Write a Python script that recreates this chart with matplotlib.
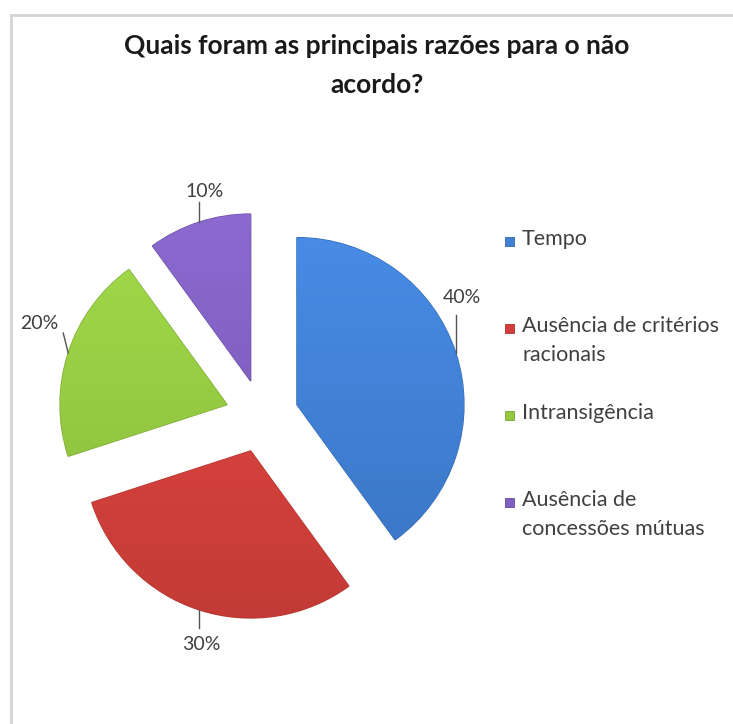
import numpy as np
import matplotlib
matplotlib.use("Agg")
import matplotlib.pyplot as plt
from matplotlib.patches import Rectangle
from matplotlib.colors import to_rgb

plt.rcParams['font.family'] = ['Lato', 'DejaVu Sans']

# Survey answers (percent)
razoes = ["Tempo", "Ausência de critérios\nracionais", "Intransigência",
          "Ausência de\nconcessões mútuas"]
valores = [40, 30, 20, 10]
rotulos = ["40%", "30%", "20%", "10%"]
cores = ["#3f7fd4", "#d23f3a", "#94c940", "#7f5fc0"]

W, H = 733, 724
fig = plt.figure(figsize=(W / 100, H / 100), dpi=100)
ax = fig.add_axes([0, 0, 1, 1])

cx, cy, R = 262, H - 416, 167
wedges, _ = ax.pie(valores, colors=cores, startangle=90, counterclock=False,
                   radius=R, center=(cx, cy), explode=[0.22 * R] * 4,
                   frame=True, wedgeprops=dict(linewidth=1))

ax.set_xlim(0, W)
ax.set_ylim(0, H)
ax.set_aspect('equal')
ax.axis('off')

# light chart-area frame
ax.add_patch(Rectangle((10.5, -20), W + 40, H - 15 + 20, fill=False,
                       edgecolor="#d4d4d4", linewidth=2, clip_on=False))

# vertical shading inside each slice
for w, c in zip(wedges, cores):
    base = np.array(to_rgb(c))
    w.set_edgecolor(tuple(base * 0.85))
    top = np.clip(base * 1.06 + 0.02, 0, 1)
    bot = base * 0.93
    t = np.linspace(0, 1, 256)[:, None, None]
    grad = top * (1 - t) + bot * t
    grad = np.repeat(grad, 2, axis=1)
    x0, y0 = w.center[0] - R, w.center[1] - R
    im = ax.imshow(grad, extent=(x0, x0 + 2 * R, y0, y0 + 2 * R),
                   origin='upper', zorder=w.get_zorder() + 0.1, aspect='auto')
    im.set_clip_path(w)

ax.set_xlim(0, W)
ax.set_ylim(0, H)

# percent labels: (leader end dx, dy), (text dx, dy) from the arc midpoint
posicoes = [((0, 38), (6, 56)), ((0, -18), (2, -35)),
            ((-5, 20), (-29, 30)), ((0, 20), (6, 31))]
for w, txt, ((lx, ly), (tx, ty)) in zip(wedges, rotulos, posicoes):
    ang = np.deg2rad((w.theta1 + w.theta2) / 2)
    px = w.center[0] + R * np.cos(ang)
    py = w.center[1] + R * np.sin(ang)
    ax.plot([px, px + lx], [py, py + ly], color="#555555", linewidth=1, zorder=5)
    ax.text(px + tx, py + ty, txt, ha='center', va='center', fontsize=14,
            color="#404040")

# legend at the right
ly0, pitch = H - 241, 87
for i, (nome, c) in enumerate(zip(razoes, cores)):
    y = ly0 - i * pitch
    ax.add_patch(Rectangle((505, y - 5), 9, 9, facecolor=c,
                           edgecolor=tuple(np.array(to_rgb(c)) * 0.8), lw=0.6))
    ax.text(522, y + 12, nome, ha='left', va='top', fontsize=15.5,
            color="#404040", linespacing=1.55)

fig.text(377 / W, 1 - 34 / H, "Quais foram as principais razões para o não\nacordo?",
         ha='center', va='top', fontsize=19, fontweight='bold',
         color="#1a1a1a", linespacing=1.75)

fig.savefig("out.png", dpi=100)
